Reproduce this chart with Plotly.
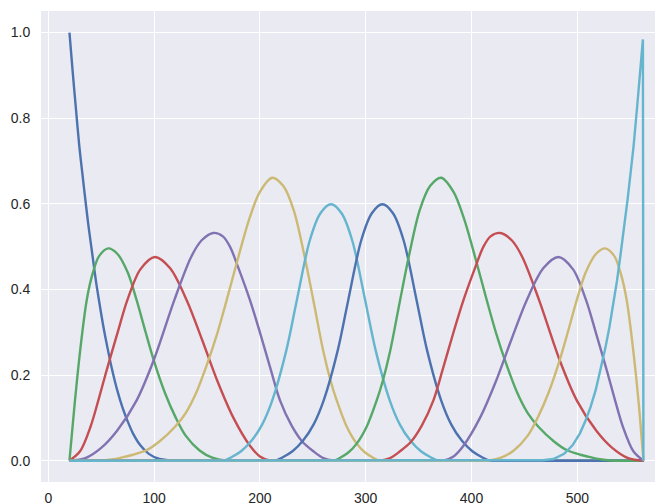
import plotly.graph_objects as go

# ---- basis values: x positions and heights ----
b0_x = [20, 23, 26, 29.3, 32, 35, 38, 41.5, 45, 48, 52, 56, 60, 65, 70, 75, 80, 87, 95, 105, 115, 125, 126, 562.5]
b0_y = [1.0, 0.91, 0.825, 0.735, 0.675, 0.61, 0.548, 0.484, 0.42, 0.373, 0.314, 0.263, 0.216, 0.166, 0.125, 0.092, 0.064, 0.036, 0.016, 0.004, 0.001, 0, 0, 0]

b1_x = [20, 25, 30, 36.3, 42, 48, 56.7, 65, 75, 83.5, 92, 100, 110, 120, 130, 143, 155, 168, 169, 562.5]
b1_y = [0, 0.135, 0.255, 0.375, 0.438, 0.478, 0.496, 0.484, 0.44, 0.375, 0.3, 0.232, 0.16, 0.103, 0.058, 0.024, 0.007, 0, 0, 0]

b2_x = [20, 30, 40, 47.3, 55, 65, 74.7, 87, 100.8, 115, 130.8, 145, 160, 175, 190.6, 200, 210, 211, 562.5]
b2_y = [0, 0.022, 0.08, 0.141, 0.21, 0.295, 0.375, 0.447, 0.476, 0.45, 0.375, 0.285, 0.185, 0.1, 0.035, 0.01, 0, 0, 0]

b3_x = [20, 35, 50, 65, 83.5, 100, 119.1, 135, 145, 156, 165, 171.7, 180, 190.6, 200, 210, 219, 230, 240, 250.6, 260, 270, 271, 562.5]
b3_y = [0, 0.006, 0.03, 0.07, 0.141, 0.237, 0.375, 0.476, 0.515, 0.532, 0.524, 0.50, 0.448, 0.375, 0.3, 0.215, 0.141, 0.082, 0.045, 0.022, 0.006, 0, 0, 0]

b4_x = [20, 47, 48, 60, 70, 80, 93, 105, 120, 130, 140, 150, 160, 168.6, 181.2, 190, 200, 211.7, 222, 232, 242, 250.5, 260, 267, 272.6, 282, 291.5, 300, 313, 314, 562.5]
b4_y = [0, 0, 0, 0.003, 0.008, 0.014, 0.025, 0.045, 0.08, 0.112, 0.16, 0.225, 0.3, 0.375, 0.49, 0.565, 0.628, 0.661, 0.642, 0.585, 0.48, 0.375, 0.255, 0.185, 0.141, 0.08, 0.04, 0.018, 0, 0, 0]

b5_x = [20, 164.2, 165.2, 172.2, 182.2, 192.2, 202.2, 211.7, 225.2, 234.9, 247.2, 257.2, 267.2, 277.2, 287.2, 299.5, 309.2, 322.7, 332.2, 342.2, 352.2, 362.2, 369.2, 370.2, 562.5]
b5_y = [0, 0, 0, 0.007, 0.022, 0.047, 0.085, 0.141, 0.26, 0.375, 0.515, 0.578, 0.599, 0.578, 0.515, 0.375, 0.26, 0.141, 0.085, 0.047, 0.022, 0.007, 0, 0, 0]

b6_x = [20, 212.8, 213.8, 220.8, 230.8, 240.8, 250.8, 260.3, 273.8, 283.5, 295.8, 305.8, 315.8, 325.8, 335.8, 348.1, 357.8, 371.3, 380.8, 390.8, 400.8, 410.8, 417.8, 418.8, 562.5]
b6_y = [0, 0, 0, 0.007, 0.022, 0.047, 0.085, 0.141, 0.26, 0.375, 0.515, 0.578, 0.599, 0.578, 0.515, 0.375, 0.26, 0.141, 0.085, 0.047, 0.022, 0.007, 0, 0, 0]

b7_x = [20, 269, 270, 283, 291.5, 301, 310.4, 316, 323, 332.5, 341, 351, 361, 371.3, 383, 393, 401.8, 414.4, 423, 433, 443, 453, 463, 478, 490, 503, 513, 523, 535, 536, 562.5]
b7_y = [0, 0, 0, 0.018, 0.04, 0.08, 0.141, 0.185, 0.255, 0.375, 0.48, 0.585, 0.642, 0.661, 0.628, 0.565, 0.49, 0.375, 0.3, 0.225, 0.16, 0.112, 0.08, 0.045, 0.025, 0.014, 0.008, 0.003, 0, 0, 0]

b8_x = [20, 312, 313, 323, 332.4, 343, 353, 364, 373, 383, 392.4, 403, 411.3, 418, 427, 438, 448, 463.9, 483, 499.5, 518, 533, 548, 562.5]
b8_y = [0, 0, 0, 0.006, 0.022, 0.045, 0.082, 0.141, 0.215, 0.3, 0.375, 0.448, 0.50, 0.524, 0.532, 0.515, 0.476, 0.375, 0.237, 0.141, 0.07, 0.03, 0.006, 0]

b9_x = [20, 372, 373, 383, 392.4, 408, 423, 438, 452.2, 468, 482.2, 496, 508.3, 518, 528, 535.7, 543, 553, 562.5]
b9_y = [0, 0, 0, 0.01, 0.035, 0.1, 0.185, 0.285, 0.375, 0.45, 0.476, 0.447, 0.375, 0.295, 0.21, 0.141, 0.08, 0.022, 0]

b10_x = [20, 414, 415, 428, 440, 453, 463, 473, 483, 491, 499.5, 508, 518, 526.3, 535, 541, 546.7, 553, 558, 562.5]
b10_y = [0, 0, 0, 0.007, 0.024, 0.058, 0.103, 0.16, 0.232, 0.3, 0.375, 0.44, 0.484, 0.496, 0.478, 0.438, 0.375, 0.255, 0.135, 0]

b11_x = [20, 457.5, 467.5, 477.5, 487.5, 495.5, 502.5, 507.5, 512.5, 517.5, 522.5, 526.5, 530.5, 534.5, 537.5, 541, 544.5, 547.5, 550.5, 553.2, 556.5, 559.5, 562, 562.5]
b11_y = [0, 0, 0.001, 0.004, 0.016, 0.036, 0.064, 0.092, 0.125, 0.166, 0.216, 0.263, 0.314, 0.373, 0.42, 0.484, 0.548, 0.61, 0.675, 0.735, 0.825, 0.91, 0.984, 0]

x_ticks = [0, 100, 200, 300, 400, 500]
y_ticks = [0.0, 0.2, 0.4, 0.6, 0.8, 1.0]
y_tick_labels = ["0.0", "0.2", "0.4", "0.6", "0.8", "1.0"]

palette = ["#4C72B0", "#55A868", "#C44E52", "#8172B2", "#CCB974", "#64B5CD"]

series = [
    (b0_x, b0_y), (b1_x, b1_y), (b2_x, b2_y), (b3_x, b3_y),
    (b4_x, b4_y), (b5_x, b5_y), (b6_x, b6_y), (b7_x, b7_y),
    (b8_x, b8_y), (b9_x, b9_y), (b10_x, b10_y), (b11_x, b11_y),
]

fig = go.Figure()
for i, (xs, ys) in enumerate(series):
    # the last basis drops straight to zero at the final sample, so draw it piecewise-linear
    shape = "linear" if i == len(series) - 1 else "spline"
    fig.add_trace(go.Scatter(
        x=xs, y=ys, mode="lines",
        line=dict(color=palette[i % len(palette)], width=2.4, shape=shape, smoothing=0.9),
        showlegend=False, hoverinfo="skip",
    ))

axis_font = dict(family="Liberation Sans, Arial, sans-serif", size=14, color="#262626")

# the page body adds an 8px offset, so the figure is sized to fill the rest of the window
fig.update_layout(
    width=655, height=496,
    margin=dict(l=33, r=0, t=3, b=22, autoexpand=False),
    paper_bgcolor="white",
    plot_bgcolor="#EAEAF2",
    xaxis=dict(
        range=[-6.9, 581.0], tickvals=x_ticks, ticktext=[str(v) for v in x_ticks],
        showgrid=True, gridcolor="white", gridwidth=1.3, zeroline=False,
        showline=False, ticks="outside", ticklen=3, tickcolor="rgba(0,0,0,0)",
        tickfont=axis_font, automargin=False,
    ),
    yaxis=dict(
        range=[-0.0497, 1.0504], tickvals=y_ticks, ticktext=y_tick_labels,
        showgrid=True, gridcolor="white", gridwidth=1.3, zeroline=False,
        showline=False, ticks="outside", ticklen=7, tickcolor="rgba(0,0,0,0)",
        tickfont=axis_font, automargin=False,
    ),
)

fig.write_html("out.html")
